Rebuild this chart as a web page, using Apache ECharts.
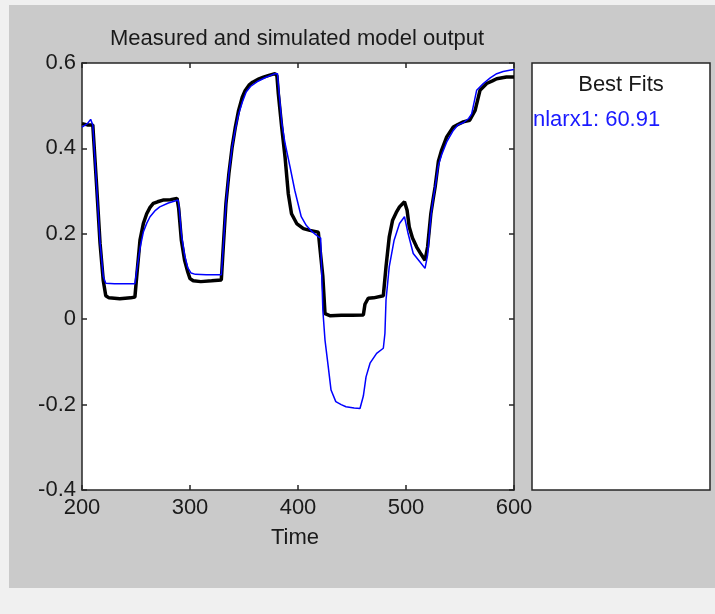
<!DOCTYPE html>
<html>
<head>
<meta charset="utf-8">
<script src="https://cdn.jsdelivr.net/npm/echarts@6/dist/echarts.min.js"></script>
<style>
html, body { margin: 0; padding: 0; background: #f0f0f0; }
#main { width: 715px; height: 614px; }
</style>
</head>
<body>
<div id="main"></div>
<script>
/* Measured output (black). */
var measuredTime = [200, 205, 210, 213.6, 216.7, 219.7, 222, 225, 235, 245, 249, 251, 253.7, 256.8, 259.9, 263, 266, 270, 275, 282, 288, 289.5, 292, 295, 298, 300, 303, 310, 320, 329, 330.8, 333.3, 336, 339, 342, 345, 348.4, 351, 354.6, 358, 363.9, 368, 373, 378.7, 380.5, 381.8, 384.9, 388, 391, 394, 398.8, 405, 411, 418.8, 420.4, 423, 425, 430, 440, 450, 460.5, 462, 465, 470, 479, 481.5, 484.5, 487.6, 491, 494, 498.6, 501, 503, 506, 509.9, 514, 517.6, 520, 523, 525, 527, 530, 533, 537.7, 543.8, 548, 553, 559, 564, 568.5, 574.7, 580, 584, 593, 600];
var measuredValue = [0.458, 0.455, 0.455, 0.31, 0.178, 0.09, 0.055, 0.05, 0.048, 0.05, 0.052, 0.11, 0.185, 0.224, 0.247, 0.262, 0.271, 0.275, 0.279, 0.28, 0.283, 0.26, 0.185, 0.138, 0.11, 0.095, 0.09, 0.088, 0.09, 0.092, 0.169, 0.271, 0.341, 0.403, 0.45, 0.489, 0.52, 0.535, 0.548, 0.555, 0.563, 0.567, 0.571, 0.575, 0.57, 0.528, 0.45, 0.38, 0.294, 0.247, 0.224, 0.212, 0.208, 0.204, 0.2, 0.1, 0.013, 0.008, 0.009, 0.009, 0.01, 0.035, 0.049, 0.05, 0.055, 0.123, 0.193, 0.232, 0.25, 0.263, 0.275, 0.255, 0.216, 0.19, 0.169, 0.152, 0.138, 0.169, 0.247, 0.279, 0.31, 0.37, 0.396, 0.427, 0.45, 0.456, 0.462, 0.466, 0.489, 0.536, 0.552, 0.558, 0.563, 0.567, 0.567];

/* Simulated model output (blue). */
var simulatedTime = [200, 205, 208, 210, 213.6, 216.7, 219.7, 222, 230, 240, 249, 251, 254, 256.8, 260, 263, 268, 272, 280, 289, 290, 292, 295, 298, 301, 305, 315, 329, 330.8, 333.3, 336, 339, 342, 345, 348.4, 352, 356, 362, 370, 378.7, 381, 382.5, 385, 388, 392.6, 397, 403, 407.6, 413, 419, 421, 423, 425, 428, 430.6, 435, 440, 444.4, 452, 457.4, 460.5, 463, 466.7, 472.8, 479, 480.5, 481.5, 484.5, 489, 494, 498.6, 502, 506.7, 513, 517.6, 520, 523, 525, 527, 530, 533, 537.7, 543.8, 548, 553, 558, 560.8, 565.4, 571.6, 578, 584, 590, 596, 600];
var simulatedValue = [0.45, 0.458, 0.468, 0.455, 0.31, 0.18, 0.1, 0.084, 0.083, 0.083, 0.083, 0.12, 0.17, 0.204, 0.225, 0.24, 0.255, 0.263, 0.272, 0.279, 0.26, 0.2, 0.15, 0.12, 0.108, 0.105, 0.104, 0.104, 0.169, 0.271, 0.341, 0.403, 0.445, 0.48, 0.508, 0.532, 0.545, 0.556, 0.566, 0.575, 0.575, 0.53, 0.46, 0.412, 0.357, 0.302, 0.24, 0.22, 0.205, 0.193, 0.19, 0.021, -0.049, -0.111, -0.166, -0.193, -0.2, -0.205, -0.208, -0.209, -0.18, -0.135, -0.103, -0.08, -0.068, -0.033, 0.045, 0.123, 0.185, 0.224, 0.24, 0.2, 0.154, 0.134, 0.119, 0.15, 0.24, 0.279, 0.31, 0.36, 0.385, 0.415, 0.442, 0.455, 0.46, 0.47, 0.481, 0.536, 0.552, 0.565, 0.575, 0.58, 0.583, 0.585];

var timeTicks   = [200, 600, 100];
var outputTicks = [-0.4, 0.6, 0.2];
var fitLabel    = 'nlarx1: 60.91';

function zip(xs, ys)
{
    var out = [];
    for(var i = 0; i < xs.length; i++) out.push([xs[i], ys[i]]);
    return out;
}

var fontFamily = 'Liberation Sans';
var fontSize   = 22;
var textColor  = '#1a1a1a';
var axisColor  = '#262626';

function makeAxis(type, range, position, showLabel)
{
    return {
        type: 'value',
        position: position,
        min: range[0],
        max: range[1],
        interval: range[2],
        axisLine: {show: true, onZero: false, lineStyle: {color: axisColor, width: 1.5}},
        axisTick: {show: true, inside: true, length: 5, lineStyle: {color: axisColor, width: 1.5}},
        splitLine: {show: false},
        axisLabel: {
            show: showLabel,
            color: textColor,
            fontFamily: fontFamily,
            fontSize: fontSize,
            margin: type == 'x' ? 7 : 6,
            formatter: function(v){ return String(+v.toFixed(1)); }
        }
    };
}

var chart = echarts.init(document.getElementById('main'));
var option = {
    backgroundColor: '#f0f0f0',
    animation: false,
    grid: {left: 82, top: 63, width: 432, height: 427, show: true, backgroundColor: '#fff', borderWidth: 0},
    xAxis: [makeAxis('x', timeTicks, 'bottom', true), makeAxis('x', timeTicks, 'top', false)],
    yAxis: [makeAxis('y', outputTicks, 'left', true), makeAxis('y', outputTicks, 'right', false)],
    graphic: [
        {type: 'rect', z: -10, shape: {x: 9, y: 5, width: 706, height: 583}, style: {fill: '#cacaca'}},
        {type: 'rect', shape: {x: 532, y: 63, width: 178, height: 427}, style: {fill: '#fff', stroke: axisColor, lineWidth: 1.5}},
        {type: 'text', x: 297, y: 39, style: {text: 'Measured and simulated model output', font: fontSize + 'px ' + fontFamily, fill: textColor, align: 'center', verticalAlign: 'middle'}},
        {type: 'text', x: 295, y: 538, style: {text: 'Time', font: fontSize + 'px ' + fontFamily, fill: textColor, align: 'center', verticalAlign: 'middle'}},
        {type: 'text', x: 621, y: 85, style: {text: 'Best Fits', font: fontSize + 'px ' + fontFamily, fill: textColor, align: 'center', verticalAlign: 'middle'}},
        {type: 'text', x: 533, y: 120, style: {text: fitLabel, font: fontSize + 'px ' + fontFamily, fill: '#1a1aff', align: 'left', verticalAlign: 'middle'}}
    ],
    series: [
        {
            name: 'Measured',
            type: 'line',
            showSymbol: false,
            lineStyle: {color: '#000', width: 3.5},
            data: zip(measuredTime, measuredValue)
        },
        {
            name: 'nlarx1',
            type: 'line',
            showSymbol: false,
            lineStyle: {color: '#0000ff', width: 1.5},
            data: zip(simulatedTime, simulatedValue)
        }
    ]
};
chart.setOption(option);
</script>
</body>
</html>
